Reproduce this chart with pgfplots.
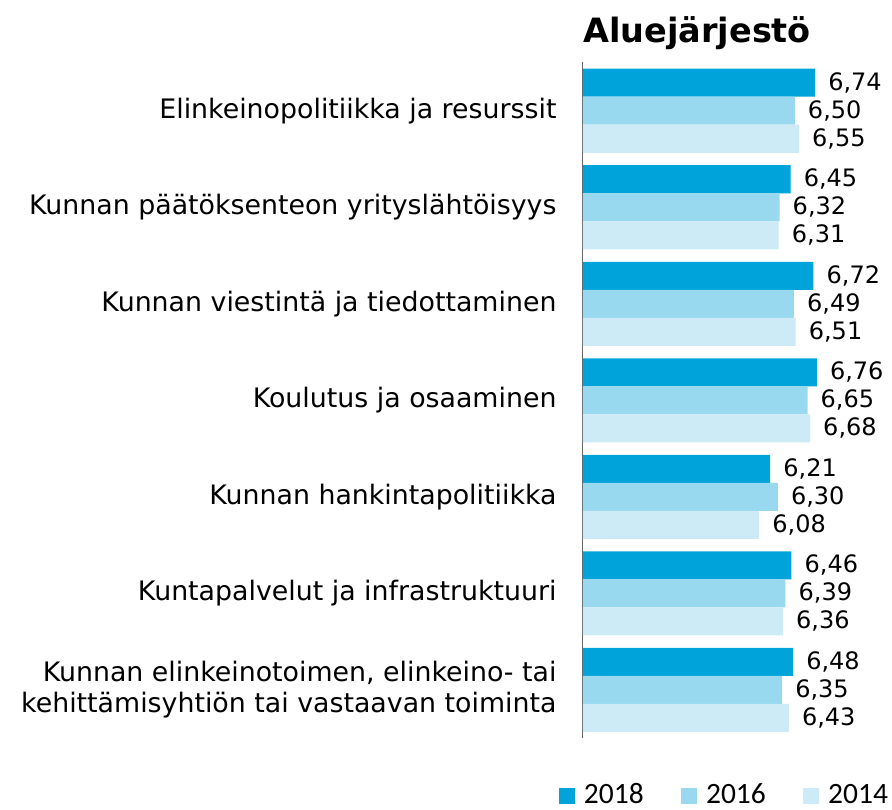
\documentclass[border=0pt]{standalone}
\usepackage{pgfplots}
\pgfplotsset{compat=1.18}
\usepackage{fontspec}
\setmainfont{DejaVu Sans}
\newfontfamily\legfont{Carlito}
\usetikzlibrary{calc}
\definecolor{c18}{RGB}{0,163,218}
\definecolor{c16}{RGB}{153,217,240}
\definecolor{c14}{RGB}{204,235,247}
\begin{document}
\begin{tikzpicture}
\begin{axis}[
  name=ax,
  scale only axis,
  width=305pt, height=675.5pt,
  xbar, bar width=28pt,
  xmin=4, xmax=7.6,
  ymin=-0.5, ymax=6.5,
  y dir=reverse,
  axis x line=none,
  axis y line*=left,
  y axis line style={black!60, line width=1pt},
  ytick={0,1,2,3,4,5,6},
  yticklabels={Elinkeinopolitiikka ja resurssit,Kunnan päätöksenteon yrityslähtöisyys,Kunnan viestintä ja tiedottaminen,Koulutus ja osaaminen,Kunnan hankintapolitiikka,Kuntapalvelut ja infrastruktuuri,{Kunnan elinkeinotoimen, elinkeino- tai\\kehittämisyhtiön tai vastaavan toiminta}},
  yticklabel style={font=\fontsize{26.8}{31}\selectfont, align=right, xshift=-23pt},
  major tick length=0pt,
  clip=false,
  nodes near coords,
  nodes near coords style={font=\fontsize{24}{28}\selectfont, anchor=west, inner sep=0pt, xshift=13pt},
  /pgf/number format/.cd, fixed, fixed zerofill, precision=2, use comma, assume math mode=true,
  /pgfplots/.cd,
  legend columns=3,
  legend cell align=left,
  legend style={draw=none, at={(rel axis cs:1,0)}, anchor=south east, xshift=1.2pt, yshift=-67pt, font=\legfont\fontsize{29.5}{32}\selectfont, nodes={inner sep=1pt, text depth=0pt}, /tikz/every odd column/.append style={column sep=8pt}, /tikz/every even column/.append style={column sep=36.3pt}, inner sep=0pt},
  legend image code/.code={\fill[#1] (0pt,-10pt) rectangle (16pt,6pt);},
]
\addplot[fill=c18, draw=none, bar shift=28pt] coordinates {(6.74,0) (6.45,1) (6.72,2) (6.76,3) (6.21,4) (6.46,5) (6.48,6)};
\addplot[fill=c16, draw=none, bar shift=0pt] coordinates {(6.50,0) (6.32,1) (6.49,2) (6.65,3) (6.30,4) (6.39,5) (6.35,6)};
\addplot[fill=c14, draw=none, bar shift=-28pt] coordinates {(6.55,0) (6.31,1) (6.51,2) (6.68,3) (6.08,4) (6.36,5) (6.43,6)};
\legend{2018,2016,2014}
\end{axis}
\node[anchor=base west, font=\bfseries\fontsize{33.5}{40}\selectfont, inner sep=0pt] at ($(ax.north west)+(0pt,20pt)$) {Aluejärjestö};
\pgfresetboundingbox
\path[use as bounding box] ($(ax.south west)+(-583pt,-72pt)$) rectangle ++(892pt,810pt);
\end{tikzpicture}
\end{document}
